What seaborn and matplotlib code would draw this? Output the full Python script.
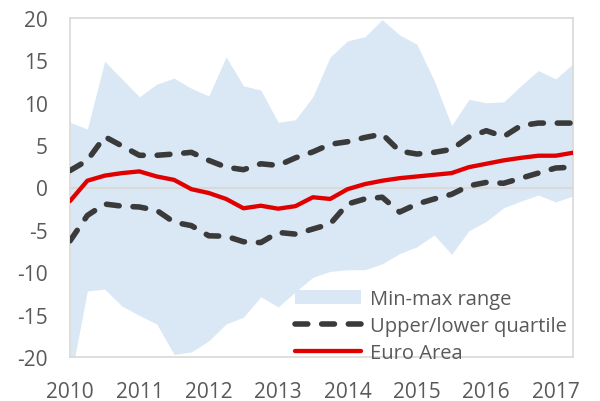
import matplotlib
matplotlib.use("Agg")
import matplotlib.pyplot as plt
import seaborn as sns
import pandas as pd
from matplotlib.patches import Patch
from matplotlib.lines import Line2D

# Quarterly observations 2010Q1 .. 2017Q2
years = [2010, 2011, 2012, 2013, 2014, 2015, 2016, 2017]
quarter_pos = [y + q * 0.25 for y in years for q in range(4)][:30]

max_range = [7.7, 6.9, 14.9, 12.8, 10.7, 12.2, 12.9, 11.7, 10.8, 15.4,
             12.0, 11.5, 7.7, 8.0, 10.7, 15.4, 17.3, 17.8, 19.8, 18.0,
             16.9, 12.6, 7.3, 10.4, 10.0, 10.1, 12.0, 13.8, 12.8, 14.6]
min_range = [-23.0, -12.2, -12.0, -14.0, -15.1, -16.1, -19.7, -19.4, -18.1, -16.1,
             -15.3, -12.9, -14.1, -12.3, -10.6, -9.9, -9.7, -9.7, -9.0, -7.8,
             -7.0, -5.6, -7.9, -5.1, -4.0, -2.4, -1.6, -0.9, -1.7, -1.0]
upper_q = [2.0, 3.2, 6.0, 4.9, 3.8, 3.8, 3.95, 4.15, 3.2, 2.4,
           2.1, 2.8, 2.6, 3.5, 4.2, 5.1, 5.4, 5.9, 6.3, 4.3,
           3.95, 4.15, 4.5, 5.95, 6.7, 6.0, 7.3, 7.6, 7.6, 7.6]
lower_q = [-6.3, -3.3, -1.95, -2.2, -2.3, -2.7, -4.1, -4.5, -5.7, -5.75,
           -6.4, -6.5, -5.3, -5.5, -4.9, -4.3, -1.95, -1.35, -1.15, -2.9,
           -1.95, -1.35, -0.8, 0.2, 0.6, 0.5, 1.1, 1.7, 2.3, 2.4]
euro_area = [-1.6, 0.8, 1.4, 1.7, 1.9, 1.3, 0.9, -0.2, -0.65, -1.35,
             -2.45, -2.15, -2.5, -2.2, -1.15, -1.35, -0.2, 0.4, 0.8, 1.1,
             1.3, 1.5, 1.7, 2.4, 2.8, 3.2, 3.5, 3.75, 3.75, 4.1]

y_ticks = [-20, -15, -10, -5, 0, 5, 10, 15, 20]
y_tick_labels = ["-20", "-15", "-10", "-5", "0", "5", "10", "15", "20"]
x_tick_labels = ["2010", "2011", "2012", "2013", "2014", "2015", "2016", "2017"]
legend_labels = ["Min-max range", "Upper/lower quartile", "Euro Area"]

df = pd.DataFrame({"x": quarter_pos, "max": max_range, "min": min_range,
                   "upper": upper_q, "lower": lower_q, "ea": euro_area})

sns.set_style("white")
plt.rcParams['font.family'] = ['Open Sans', 'DejaVu Sans']

FILL = "#DAE8F5"
DASH = "#3A3A3A"
RED = "#E00000"
GRID = "#D9D9D9"
TXT = "#595959"

fig = plt.figure(figsize=(6, 4.02), dpi=100)
ax = fig.add_axes([70/600, 1 - 358/402, 503/600, 339/402])

ax.fill_between(df["x"], df["min"], df["max"], color=FILL, lw=0, zorder=1)
ax.axhline(0, color=GRID, lw=1.5, zorder=2)

dash_style = (0, (2.3, 2.5))
sns.lineplot(data=df, x="x", y="upper", ax=ax, color=DASH, lw=4,
             linestyle=dash_style, dash_capstyle="round", zorder=3)
sns.lineplot(data=df, x="x", y="lower", ax=ax, color=DASH, lw=4,
             linestyle=dash_style, dash_capstyle="round", zorder=3)
sns.lineplot(data=df, x="x", y="ea", ax=ax, color=RED, lw=3.1, zorder=4)

ax.set_xlim(2010, 2017.25)
ax.set_ylim(-20, 20)
ax.set_xticks(years)
ax.set_xticklabels(x_tick_labels)
ax.set_yticks(y_ticks)
ax.set_yticklabels(y_tick_labels)
ax.set_xlabel("")
ax.set_ylabel("")
ax.tick_params(axis="both", length=0, labelsize=15, colors=TXT)
ax.tick_params(axis="y", pad=16)
ax.tick_params(axis="x", pad=17)
for s in ax.spines.values():
    s.set_visible(True)
    s.set_color(GRID)
    s.set_linewidth(1.2)

handles = [Patch(facecolor=FILL, edgecolor="none"),
           Line2D([0], [0], color=DASH, lw=4, linestyle=dash_style, dash_capstyle="round"),
           Line2D([0], [0], color=RED, lw=3.1)]
leg = ax.legend(handles, legend_labels, loc="lower left",
                bbox_to_anchor=(0.447, -0.018), frameon=False, fontsize=14.5,
                handlelength=3.3, handleheight=0.7, handletextpad=0.45,
                labelspacing=0.34, borderpad=0, borderaxespad=0)
for t in leg.get_texts():
    t.set_color(TXT)

fig.savefig("out.png", dpi=100)
